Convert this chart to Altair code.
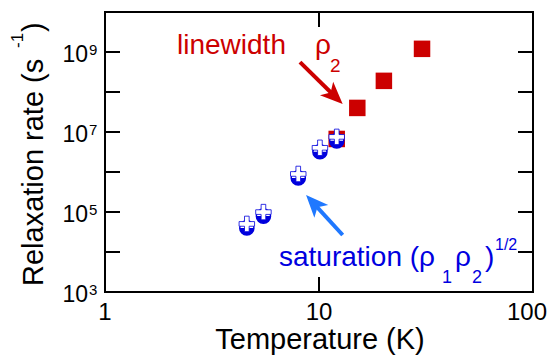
import altair as alt
import pandas as pd
import math

# ---- data ----
T_linewidth = [12.1, 15.1, 20.1, 30.3]
R_linewidth = [6.7e6, 4.0e7, 1.9e8, 1.2e9]
T_saturation = [4.6, 5.5, 8.0, 10.1, 12.1]
R_saturation = [4.0e4, 7.9e4, 7.1e5, 3.2e6, 6.0e6]

y_label_exps = [3, 5, 7, 9]
y_tick_exps = [4, 5, 6, 7, 8, 9]
x_tick_vals = [1, 10]
x_tick_labels = ["1", "10"]
x_last_val = 100
x_last_label = "100"

# arrows (start, tip) in data coordinates
red_arrow = {"T0": 8.15, "R0": 5.6e8, "T1": 12.9, "R1": 5.0e7}
blue_arrow = {"T0": 12.9, "R0": 2.66e4, "T1": 8.7, "R1": 2.66e5}

W, H = 428, 280
RED = "#CC0000"
BLUE = "#0000DD"
TXTBLUE = "#0000E0"
ARROWBLUE = "#1F78FF"
FONT = "Liberation Sans"

xs = alt.Scale(type="log", domain=[1, 100])
ys = alt.Scale(type="log", domain=[1e3, 1e10])


def X(f="T"):
    return alt.X(f"{f}:Q", scale=xs, axis=None)


def Y(f="R"):
    return alt.Y(f"{f}:Q", scale=ys, axis=None)


lw = pd.DataFrame({"T": T_linewidth, "R": R_linewidth})
sat = pd.DataFrame({"T": T_saturation, "R": R_saturation})

squares = alt.Chart(lw).mark_point(shape="square", filled=True, color=RED, size=272, opacity=1).encode(x=X(), y=Y())

circ = alt.Chart(sat).mark_point(shape="circle", filled=True, fill="white", stroke=BLUE, strokeWidth=1.5,
                                 size=200, opacity=1).encode(x=X(), y=Y())
half = alt.Chart(sat).mark_point(shape="M -1 0 A 1 1 0 0 0 1 0 Z", filled=True, color=BLUE, size=200,
                                 opacity=1).encode(x=X(), y=Y())
plus_path = ("M -0.3 -1 L 0.3 -1 L 0.3 -0.3 L 1 -0.3 L 1 0.3 L 0.3 0.3 L 0.3 1 "
             "L -0.3 1 L -0.3 0.3 L -1 0.3 L -1 -0.3 L -0.3 -0.3 Z")
plus = alt.Chart(sat).mark_point(shape=plus_path, filled=True, fill="white", stroke=BLUE, strokeWidth=0.8,
                                 size=240, yOffset=-4, opacity=1).encode(x=X(), y=Y())


def arrow(a, color, angle, frac):
    t0, r0, t1, r1 = a["T0"], a["R0"], a["T1"], a["R1"]
    te = 10 ** (math.log10(t0) + frac * (math.log10(t1) - math.log10(t0)))
    re_ = 10 ** (math.log10(r0) + frac * (math.log10(r1) - math.log10(r0)))
    df = pd.DataFrame({"T": [t0], "R": [r0], "T2": [te], "R2": [re_], "Tt": [t1], "Rt": [r1]})
    shaft = alt.Chart(df).mark_rule(color=color, strokeWidth=4).encode(
        x=X("T"), y=Y("R"), x2="T2:Q", y2="R2:Q")
    head = alt.Chart(df).mark_point(shape="M 0 0 L 0.85 2 L 0 1.5 L -0.85 2 Z", filled=True, color=color,
                                    size=500, angle=angle, opacity=1).encode(x=X("Tt"), y=Y("Rt"))
    return shaft + head


red_arr = arrow(red_arrow, RED, 134, 0.82)
blue_arr = arrow(blue_arrow, ARROWBLUE, 317, 0.78)

# ticks (inward)
yt = pd.DataFrame({"R": [10.0 ** e for e in y_tick_exps]})
left_ticks = alt.Chart(yt).mark_rule(color="black", strokeWidth=2).encode(
    y=Y(), x=alt.value(0), x2=alt.value(15))
right_ticks = alt.Chart(yt).mark_rule(color="black", strokeWidth=2).encode(
    y=Y(), x=alt.value(W - 15), x2=alt.value(W))
xt = pd.DataFrame({"T": [10]})
bot_ticks = alt.Chart(xt).mark_rule(color="black", strokeWidth=2).encode(
    x=X(), y=alt.value(H - 15), y2=alt.value(H))
top_ticks = alt.Chart(xt).mark_rule(color="black", strokeWidth=2).encode(
    x=X(), y=alt.value(0), y2=alt.value(15))

# tick labels
yl = pd.DataFrame({"R": [10.0 ** e for e in y_label_exps], "exp": [str(e) for e in y_label_exps]})
ylab_base = alt.Chart(yl).mark_text(text="10", font=FONT, fontSize=23, align="right", baseline="alphabetic",
                                    dy=10, color="black").encode(y=Y(), x=alt.value(-17))
ylab_exp = alt.Chart(yl).mark_text(font=FONT, fontSize=15, align="left", baseline="alphabetic",
                                   dy=3, color="black").encode(y=Y(), x=alt.value(-16), text="exp:N")
xl = pd.DataFrame({"T": x_tick_vals, "lab": x_tick_labels})
xlab = alt.Chart(xl).mark_text(font=FONT, fontSize=24, align="center", baseline="alphabetic",
                               color="black").encode(x=X(), y=alt.value(H + 28), text="lab:N")
xl2 = pd.DataFrame({"T": [x_last_val], "lab": [x_last_label]})
xlab2 = alt.Chart(xl2).mark_text(font=FONT, fontSize=24, align="center", baseline="alphabetic", dx=-6,
                                 color="black").encode(x=X(), y=alt.value(H + 28), text="lab:N")

one = pd.DataFrame({"a": [0]})


def txt(s, x, y, size, color="black", align="left", angle=0):
    kw = dict(text=s, font=FONT, fontSize=size, align=align, baseline="alphabetic", color=color)
    if angle:
        kw["angle"] = angle
    return alt.Chart(one).mark_text(**kw).encode(x=alt.value(x), y=alt.value(y))


texts = [
    txt("Temperature (K)", 215, 337, 29, align="center"),
    txt("Relaxation rate (s", -62, 274, 29, angle=270),
    txt("-1", -82, 36, 17, angle=270),
    txt(")", -62, 20, 29, angle=270),
    txt("linewidth", 72, 42, 28, RED),
    txt("ρ", 210, 42, 28, RED),
    txt("2", 225, 60, 19, RED),
    txt("saturation (ρ", 174, 254, 28, TXTBLUE),
    txt("1", 337, 271, 18, TXTBLUE),
    txt("ρ", 350, 254, 28, TXTBLUE),
    txt("2", 367, 271, 18, TXTBLUE),
    txt(")", 380, 254, 28, TXTBLUE),
    txt("1/2", 390, 238, 16, TXTBLUE),
]

chart = alt.layer(
    left_ticks, right_ticks, bot_ticks, top_ticks,
    squares, circ, half, plus,
    red_arr, blue_arr,
    ylab_base, ylab_exp, xlab, xlab2,
    *texts,
).properties(
    width=W, height=H,
    padding={"left": 97, "top": 4, "right": 15, "bottom": 64},
    autosize="none",
).configure_view(stroke="black", strokeWidth=2)

chart.save("out.html", embed_options={"renderer": "svg", "actions": False})
